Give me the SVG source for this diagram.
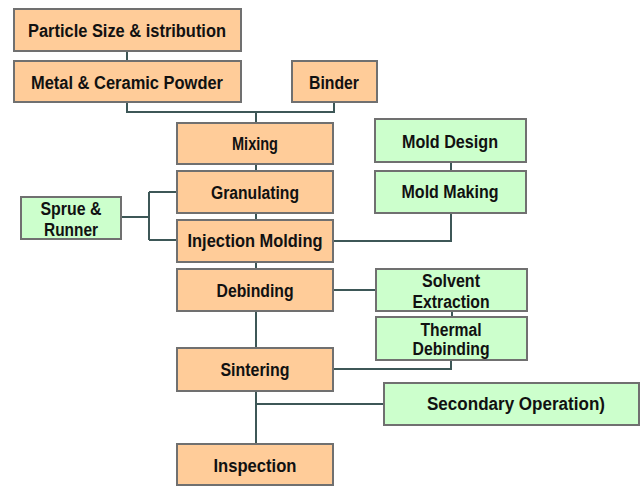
<svg xmlns="http://www.w3.org/2000/svg" width="644" height="486" viewBox="0 0 644 486">
<style>
.o{fill:#FFCC99;stroke:#707070;stroke-width:2}
.g{fill:#CCFFCC;stroke:#707070;stroke-width:2}
text{font-family:"Liberation Sans",Arial,sans-serif;font-weight:bold;font-size:17.5px;fill:#111;text-anchor:middle}
.c{fill:none;stroke:#3d5757;stroke-width:2}
</style>
<rect width="644" height="486" fill="#fff"/>
<g id="connectors">
<path class="c" d="M127 51V61M127 102V112H334V102M256 112V123M256 164V171M256 213V220M256 262V269M256 311V348M256 391V444M256 404H384M333 369H451V360M452 311V317M333 290H376M333 241H451V213M451 162V171M121 217H149M149 192V240M149 192H177M149 240H177"/>
</g>
<g id="particle"><rect class="o" x="14" y="9" width="227" height="42"/><text x="127" y="37" textLength="198" lengthAdjust="spacingAndGlyphs">Particle Size &amp; istribution</text></g>
<g id="powder"><rect class="o" x="14" y="61" width="227" height="41"/><text x="127" y="89" textLength="192" lengthAdjust="spacingAndGlyphs">Metal &amp; Ceramic Powder</text></g>
<g id="binder"><rect class="o" x="292" y="61" width="85" height="41"/><text x="334" y="89" textLength="50" lengthAdjust="spacingAndGlyphs">Binder</text></g>
<g id="mixing"><rect class="o" x="177" y="123" width="156" height="41"/><text x="255" y="150" textLength="46" lengthAdjust="spacingAndGlyphs">Mixing</text></g>
<g id="granulating"><rect class="o" x="177" y="171" width="156" height="42"/><text x="255" y="199" textLength="88" lengthAdjust="spacingAndGlyphs">Granulating</text></g>
<g id="injection"><rect class="o" x="177" y="220" width="156" height="42"/><text x="255" y="247" textLength="135" lengthAdjust="spacingAndGlyphs">Injection Molding</text></g>
<g id="debinding"><rect class="o" x="177" y="269" width="156" height="42"/><text x="255" y="297" textLength="77" lengthAdjust="spacingAndGlyphs">Debinding</text></g>
<g id="sintering"><rect class="o" x="177" y="348" width="156" height="43"/><text x="255" y="376" textLength="69" lengthAdjust="spacingAndGlyphs">Sintering</text></g>
<g id="inspection"><rect class="o" x="177" y="444" width="156" height="41"/><text x="255" y="472" textLength="83" lengthAdjust="spacingAndGlyphs">Inspection</text></g>
<g id="sprue"><rect class="g" x="21" y="197" width="100" height="42"/><text x="71" y="215" textLength="61" lengthAdjust="spacingAndGlyphs">Sprue &amp;</text><text x="71" y="236" textLength="54" lengthAdjust="spacingAndGlyphs">Runner</text></g>
<g id="molddesign"><rect class="g" x="375" y="119" width="151" height="43"/><text x="450" y="148" textLength="96" lengthAdjust="spacingAndGlyphs">Mold Design</text></g>
<g id="moldmaking"><rect class="g" x="375" y="171" width="151" height="42"/><text x="450" y="198" textLength="97" lengthAdjust="spacingAndGlyphs">Mold Making</text></g>
<g id="solvent"><rect class="g" x="376" y="269" width="151" height="42"/><text x="451" y="287" textLength="58" lengthAdjust="spacingAndGlyphs">Solvent</text><text x="451" y="308" textLength="77" lengthAdjust="spacingAndGlyphs">Extraction</text></g>
<g id="thermal"><rect class="g" x="376" y="317" width="151" height="43"/><text x="451" y="336" textLength="61" lengthAdjust="spacingAndGlyphs">Thermal</text><text x="451" y="355" textLength="77" lengthAdjust="spacingAndGlyphs">Debinding</text></g>
<g id="secondary"><rect class="g" x="384" y="383" width="255" height="42"/><text x="516" y="410" textLength="178" lengthAdjust="spacingAndGlyphs">Secondary Operation)</text></g>
</svg>
